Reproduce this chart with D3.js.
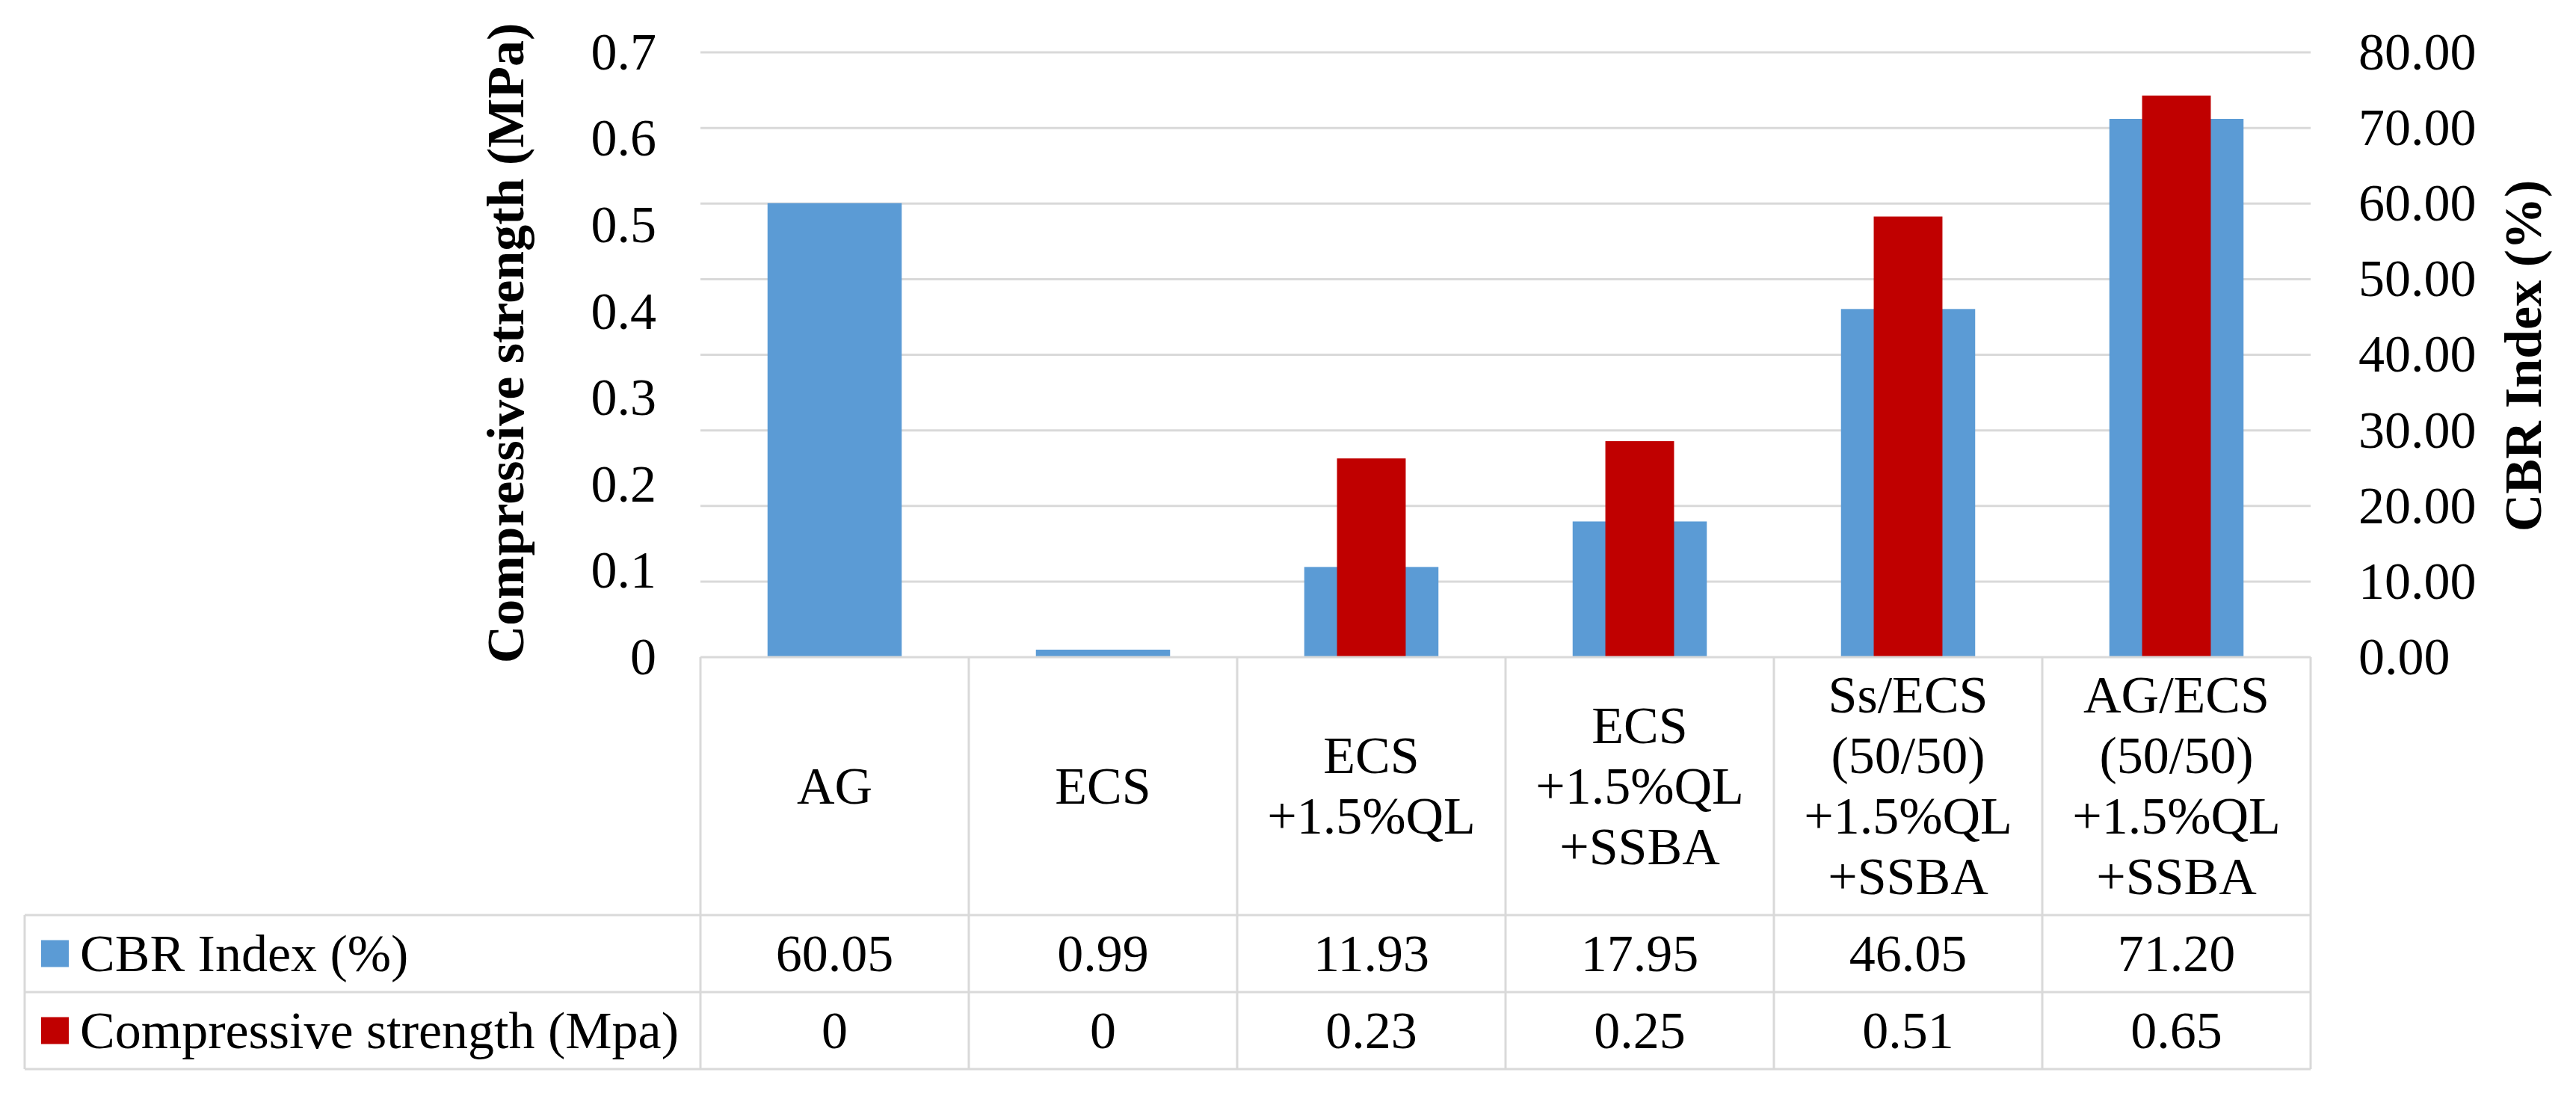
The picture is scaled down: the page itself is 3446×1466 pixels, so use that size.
<!DOCTYPE html>
<html>
<head>
<meta charset="utf-8">
<script src="https://cdn.jsdelivr.net/npm/d3@7"></script>
<style>
  body { margin: 0; background: #fff; }
  svg { display: block; font-family: "Liberation Serif", "Times New Roman", serif; }
</style>
</head>
<body>
<div id="chart"></div>
<script>
// categories (header cells, one entry per line)
const categorias = [
  ["AG"],
  ["ECS"],
  ["ECS", "+1.5%QL"],
  ["ECS", "+1.5%QL", "+SSBA"],
  ["Ss/ECS", "(50/50)", "+1.5%QL", "+SSBA"],
  ["AG/ECS", "(50/50)", "+1.5%QL", "+SSBA"]
];
const cbr = [60.05, 0.99, 11.93, 17.95, 46.05, 71.20];
const resistencia = [0, 0, 0.23, 0.25, 0.51, 0.65];
const cbrTexto = ["60.05", "0.99", "11.93", "17.95", "46.05", "71.20"];
const resistenciaTexto = ["0", "0", "0.23", "0.25", "0.51", "0.65"];
const ticksIzq = [0, 0.1, 0.2, 0.3, 0.4, 0.5, 0.6, 0.7];
const ticksDer = [0, 10, 20, 30, 40, 50, 60, 70, 80];
const series = [
  { nombre: "CBR Index (%)", color: "#5b9bd5", textos: cbrTexto },
  { nombre: "Compressive strength (Mpa)", color: "#c00000", textos: resistenciaTexto }
];

const W = 3446, H = 1466;
const plot = { left: 937, right: 3091, top: 70, bottom: 879 };
const tabla = { legendLeft: 33, header: 1224, row1: 1327, row2: 1430 };
const fs = 70, grid = "#d9d9d9";

const svg = d3.select("#chart").append("svg")
  .attr("width", W)
  .attr("height", H);

const x = d3.scaleBand()
  .domain(d3.range(categorias.length))
  .range([plot.left, plot.right])
  .padding(0);

const yIzq = d3.scaleLinear().domain([0, 0.7]).range([plot.bottom, plot.top]);
const yDer = d3.scaleLinear().domain([0, 80]).range([plot.bottom, plot.top]);

// gridlines follow the right axis
svg.append("g")
  .selectAll("line")
  .data(ticksDer.slice(1))
  .join("line")
  .attr("x1", plot.left)
  .attr("x2", plot.right)
  .attr("y1", d => yDer(d))
  .attr("y2", d => yDer(d))
  .attr("stroke", grid)
  .attr("stroke-width", 3);

// blue bars (CBR, right axis)
const bw = x.bandwidth();
svg.append("g")
  .selectAll("rect")
  .data(cbr)
  .join("rect")
  .attr("x", (d, i) => x(i) + bw / 2 - bw * 0.25)
  .attr("width", bw * 0.5)
  .attr("y", d => yDer(d))
  .attr("height", d => plot.bottom - yDer(d))
  .attr("fill", series[0].color);

// red bars (compressive strength, left axis)
svg.append("g")
  .selectAll("rect")
  .data(resistencia)
  .join("rect")
  .attr("x", (d, i) => x(i) + bw / 2 - bw * 0.128)
  .attr("width", bw * 0.256)
  .attr("y", d => yIzq(d))
  .attr("height", d => plot.bottom - yIzq(d))
  .attr("fill", series[1].color);

// axes
const ejeIzq = svg.append("g")
  .attr("transform", `translate(${plot.left},0)`)
  .call(d3.axisLeft(yIzq).tickValues(ticksIzq).tickFormat(d => d === 0 ? "0" : d3.format(".1f")(d)).tickSize(0).tickPadding(59));
const ejeDer = svg.append("g")
  .attr("transform", `translate(${plot.right},0)`)
  .call(d3.axisRight(yDer).tickValues(ticksDer).tickFormat(d3.format(".2f")).tickSize(0).tickPadding(64));
[ejeIzq, ejeDer].forEach(g => {
  g.select(".domain").remove();
  g.selectAll("text")
    .attr("font-family", "Liberation Serif, Times New Roman, serif")
    .attr("font-size", fs)
    .attr("fill", "#000");
});

// axis titles
svg.append("text")
  .attr("transform", "translate(700,459) rotate(-90)")
  .attr("text-anchor", "middle")
  .attr("font-size", fs)
  .attr("font-weight", "bold")
  .text("Compressive strength (MPa)");
svg.append("text")
  .attr("transform", "translate(3399,476) rotate(-90)")
  .attr("text-anchor", "middle")
  .attr("font-size", fs)
  .attr("font-weight", "bold")
  .text("CBR Index (%)");

// data table
const t = svg.append("g").attr("stroke", grid).attr("stroke-width", 3);
t.append("line").attr("x1", plot.left).attr("x2", plot.right).attr("y1", plot.bottom).attr("y2", plot.bottom);
[tabla.header, tabla.row1, tabla.row2].forEach(y => {
  t.append("line").attr("x1", tabla.legendLeft).attr("x2", plot.right).attr("y1", y).attr("y2", y);
});
t.append("line").attr("x1", tabla.legendLeft).attr("x2", tabla.legendLeft).attr("y1", tabla.header).attr("y2", tabla.row2);
d3.range(categorias.length + 1).forEach(i => {
  const xx = i < categorias.length ? x(i) : plot.right;
  t.append("line").attr("x1", xx).attr("x2", xx).attr("y1", plot.bottom).attr("y2", tabla.row2);
});

const lh = 81, cap = 23;
const headCenter = (plot.bottom + tabla.header) / 2;
categorias.forEach((lineas, i) => {
  const txt = svg.append("text")
    .attr("text-anchor", "middle")
    .attr("font-size", fs)
    .attr("fill", "#000");
  lineas.forEach((l, k) => {
    txt.append("tspan")
      .attr("x", x(i) + bw / 2)
      .attr("y", headCenter - (lineas.length - 1) * lh / 2 + cap + k * lh)
      .text(l);
  });
});

const filas = [(tabla.header + tabla.row1) / 2, (tabla.row1 + tabla.row2) / 2];
series.forEach((s, r) => {
  const cy = filas[r];
  svg.append("rect")
    .attr("x", 55).attr("y", cy - 18)
    .attr("width", 37).attr("height", 36)
    .attr("fill", s.color);
  svg.append("text")
    .attr("x", 107).attr("y", cy + cap)
    .attr("font-size", fs)
    .attr("fill", "#000")
    .text(s.nombre);
  svg.append("g")
    .selectAll("text")
    .data(s.textos)
    .join("text")
    .attr("x", (d, i) => x(i) + bw / 2)
    .attr("y", cy + cap)
    .attr("text-anchor", "middle")
    .attr("font-size", fs)
    .attr("fill", "#000")
    .text(d => d);
});
</script>
</body>
</html>
